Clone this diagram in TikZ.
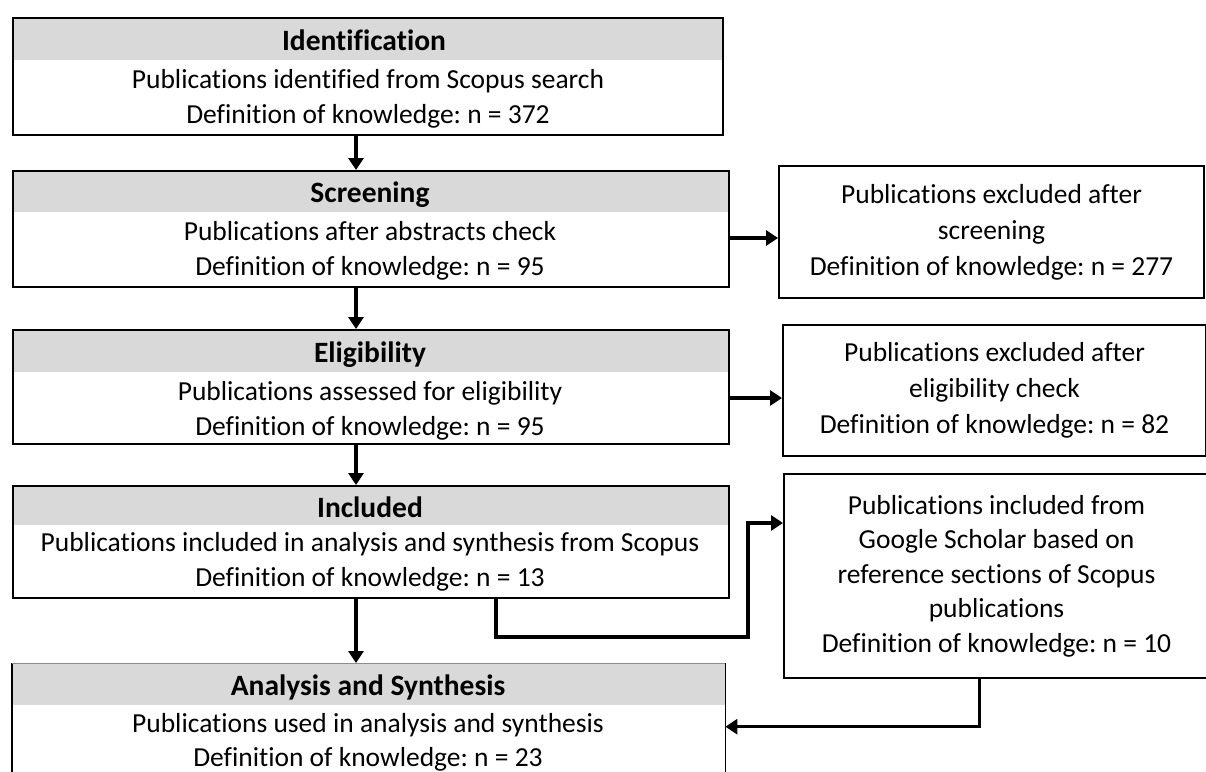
\documentclass[tikz,border=0pt]{standalone}
\usepackage{fontspec}
\setmainfont{Carlito}[Ligatures=NoCommon]
\usetikzlibrary{arrows.meta,calc,backgrounds}
\frenchspacing

\definecolor{headgray}{HTML}{D9D9D9}

\tikzset{
  frame/.style={draw=black, line width=2pt, inner sep=0pt, anchor=north west},
  sidebox/.style={frame, align=center, font=\fontsize{27.5}{36}\selectfont},
  head/.style={font=\fontsize{29.5}{33}\selectfont\bfseries, anchor=base, inner sep=0pt},
  line/.style={font=\fontsize{27.5}{35}\selectfont, anchor=base, inner sep=0pt},
  flow/.style={line width=3.4pt, -{Triangle[length=12pt,width=15pt]}},
}

\begin{document}
\begin{tikzpicture}[x=1pt,y=-1pt]
\useasboundingbox (0,0) rectangle (1206,771);
\clip (0,0) rectangle (1206,771);

% main column of stages
\node[frame, minimum width=710pt, minimum height=117pt] (ident)  at (12,17)  {};
\node[frame, minimum width=716pt, minimum height=116pt] (screen) at (12,170) {};
\node[frame, minimum width=716pt, minimum height=114pt] (elig)   at (12,329) {};
\node[frame, minimum width=716pt, minimum height=112pt] (incl)   at (12,485) {};
\node[inner sep=0pt, anchor=north west, minimum width=713pt, minimum height=127pt] (anal) at (12,663) {};
\draw[line width=2pt] (anal.south west) -- (anal.north west);
\draw[line width=1pt, black!45] (anal.north west) -- (anal.north east);
\draw[line width=1.5pt] (anal.north east) -- (anal.south east);

% grey title bands
\begin{pgfonlayer}{background}
  \fill[headgray] (ident.north west)  rectangle ([yshift=-43pt]ident.north east);
  \fill[headgray] (screen.north west) rectangle ([yshift=-42pt]screen.north east);
  \fill[headgray] (elig.north west)   rectangle ([yshift=-43pt]elig.north east);
  \fill[headgray] (incl.north west)   rectangle ([yshift=-40pt]incl.north east);
  \fill[headgray] (anal.north west)   rectangle ([yshift=-42pt]anal.north east);
\end{pgfonlayer}

% stage texts
\node[head] (identH) at (364,50) {Identification};
\node[line] (identA) at (368,88) {Publications identified from Scopus search};
\node[line] (identB) at (368,123) {Definition of knowledge: n = 372};

\node[head] (screenH) at (370,202) {Screening};
\node[line] (screenA) at (370,240) {Publications after abstracts check};
\node[line] (screenB) at (370,275) {Definition of knowledge: n = 95};

\node[head] (eligH) at (370,362) {Eligibility};
\node[line] (eligA) at (370,400) {Publications assessed for eligibility};
\node[line] (eligB) at (370,435) {Definition of knowledge: n = 95};

\node[head] (inclH) at (370,517) {Included};
\node[line] (inclA) at (370,551) {Publications included in analysis and synthesis from Scopus};
\node[line] (inclB) at (370,586) {Definition of knowledge: n = 13};

\node[head] (analH) at (368,695) {Analysis and Synthesis};
\node[line] (analA) at (368,732) {Publications used in analysis and synthesis};
\node[line] (analB) at (368,766) {Definition of knowledge: n = 23};

% side boxes
\node[sidebox, minimum width=425pt, minimum height=132pt] (excl1) at (778,165)
  {Publications excluded after\\screening\\Definition of knowledge: n = 277};
\node[sidebox, minimum width=423pt, minimum height=131pt] (excl2) at (782,324)
  {Publications excluded after\\eligibility check\\Definition of knowledge: n = 82};
\node[sidebox, font=\fontsize{27.5}{34.5}\selectfont, minimum width=425pt, minimum height=204pt] (google) at (783,473)
  {Publications included from\\Google Scholar based on\\reference sections of Scopus\\publications\\Definition of knowledge: n = 10};

% connectors
\coordinate (axis) at (356,0);
\draw[flow] (ident.south -| axis) -- (screen.north -| axis);
\draw[flow] (screen.south -| axis) -- (elig.north -| axis);
\draw[flow] (elig.south -| axis) -- (incl.north -| axis);
\draw[flow] (incl.south -| axis) -- (anal.north -| axis);

\draw[flow] ([yshift=-9pt]screen.east) -- ([yshift=-9pt]screen.east -| excl1.west);
\draw[flow] ([yshift=-11pt]elig.east) -- ([yshift=-11pt]elig.east -| excl2.west);

\coordinate (inclOut) at ([xshift=125pt]incl.south);
\coordinate (bend) at (748,637);
\coordinate (googleIn) at ([yshift=53pt]google.west);
\draw[flow, line join=miter] (inclOut) |- (bend) |- (googleIn);

\coordinate (googleOut) at ([xshift=-17pt]google.south);
\draw[flow, line join=miter] (googleOut) |- (anal.east);
\end{tikzpicture}
\end{document}
